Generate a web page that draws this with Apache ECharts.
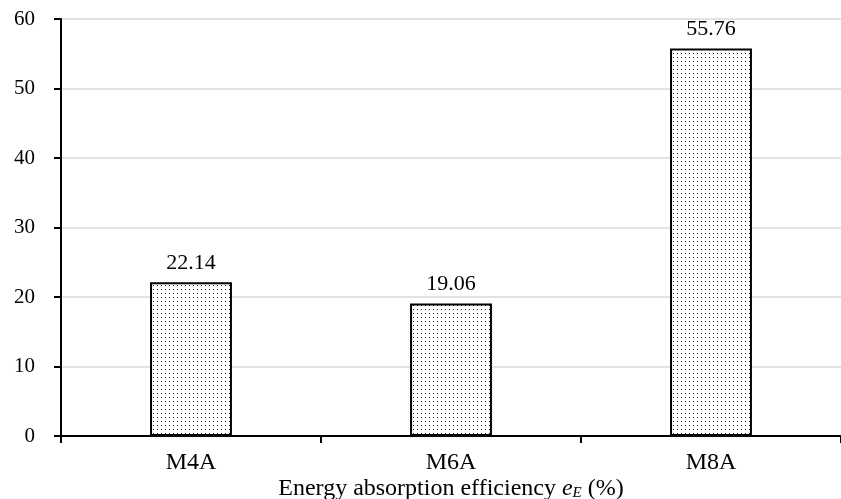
<!DOCTYPE html>
<html>
<head>
<meta charset="utf-8">
<script src="https://cdn.jsdelivr.net/npm/echarts@6/dist/echarts.min.js"></script>
<style>html,body{margin:0;padding:0;background:#fff;}#c{width:841px;height:499px;}</style>
</head>
<body>
<div id="c"></div>
<script>
const categories = ['M4A', 'M6A', 'M8A'];
const values = [22.14, 19.06, 55.76];
const yTicks = [0, 10, 20, 30, 40, 50, 60];

function makePattern() {
  const cv = document.createElement('canvas');
  cv.width = 4; cv.height = 4;
  const ctx = cv.getContext('2d');
  ctx.fillStyle = '#ffffff';
  ctx.fillRect(0, 0, 4, 4);
  ctx.fillStyle = '#222222';
  ctx.fillRect(1, 1, 1, 1);
  return cv;
}

const font = 'Liberation Serif';
const chart = echarts.init(document.getElementById('c'), null, {renderer: 'canvas'});
chart.setOption({
  animation: false,
  backgroundColor: '#fff',
  grid: {left: 61, right: 0, top: 19, bottom: 63, containLabel: false, outerBoundsMode: 'none'},
  xAxis: {
    type: 'category',
    data: categories,
    boundaryGap: true,
    axisLine: {lineStyle: {color: '#000', width: 2}},
    axisTick: {show: true, alignWithLabel: false, length: 7, lineStyle: {color: '#000', width: 2}},
    axisLabel: {color: '#000', fontFamily: font, fontSize: 24, margin: 15},
    name: '{n|Energy absorption efficiency }{i|e}{s|E}{n| (%)}',
    nameLocation: 'middle',
    nameGap: 41,
    nameMoveOverlap: false,
    nameTextStyle: {
      rich: {
        n: {fontFamily: font, fontSize: 24, color: '#000'},
        i: {fontFamily: font, fontSize: 24, fontStyle: 'italic', color: '#000'},
        s: {fontFamily: font, fontSize: 15, fontStyle: 'italic', color: '#000', verticalAlign: 'bottom'}
      }
    }
  },
  yAxis: {
    type: 'value',
    min: yTicks[0],
    max: yTicks[yTicks.length - 1],
    interval: yTicks[1] - yTicks[0],
    axisLine: {show: true, lineStyle: {color: '#000', width: 2}},
    axisTick: {show: true, length: 7, lineStyle: {color: '#000', width: 2}},
    axisLabel: {color: '#000', fontFamily: font, fontSize: 21, margin: 26},
    splitLine: {show: true, lineStyle: {color: '#d9d9d9', width: 1.5}}
  },
  series: [{
    type: 'bar',
    data: values,
    barWidth: '31.5%',
    itemStyle: {
      color: {image: makePattern(), repeat: 'repeat'},
      borderColor: '#000',
      borderWidth: 2
    },
    label: {
      show: true,
      position: 'top',
      distance: 8,
      color: '#000',
      fontFamily: font,
      fontSize: 22,
      formatter: p => p.value.toFixed(2)
    }
  }]
});
</script>
</body>
</html>
